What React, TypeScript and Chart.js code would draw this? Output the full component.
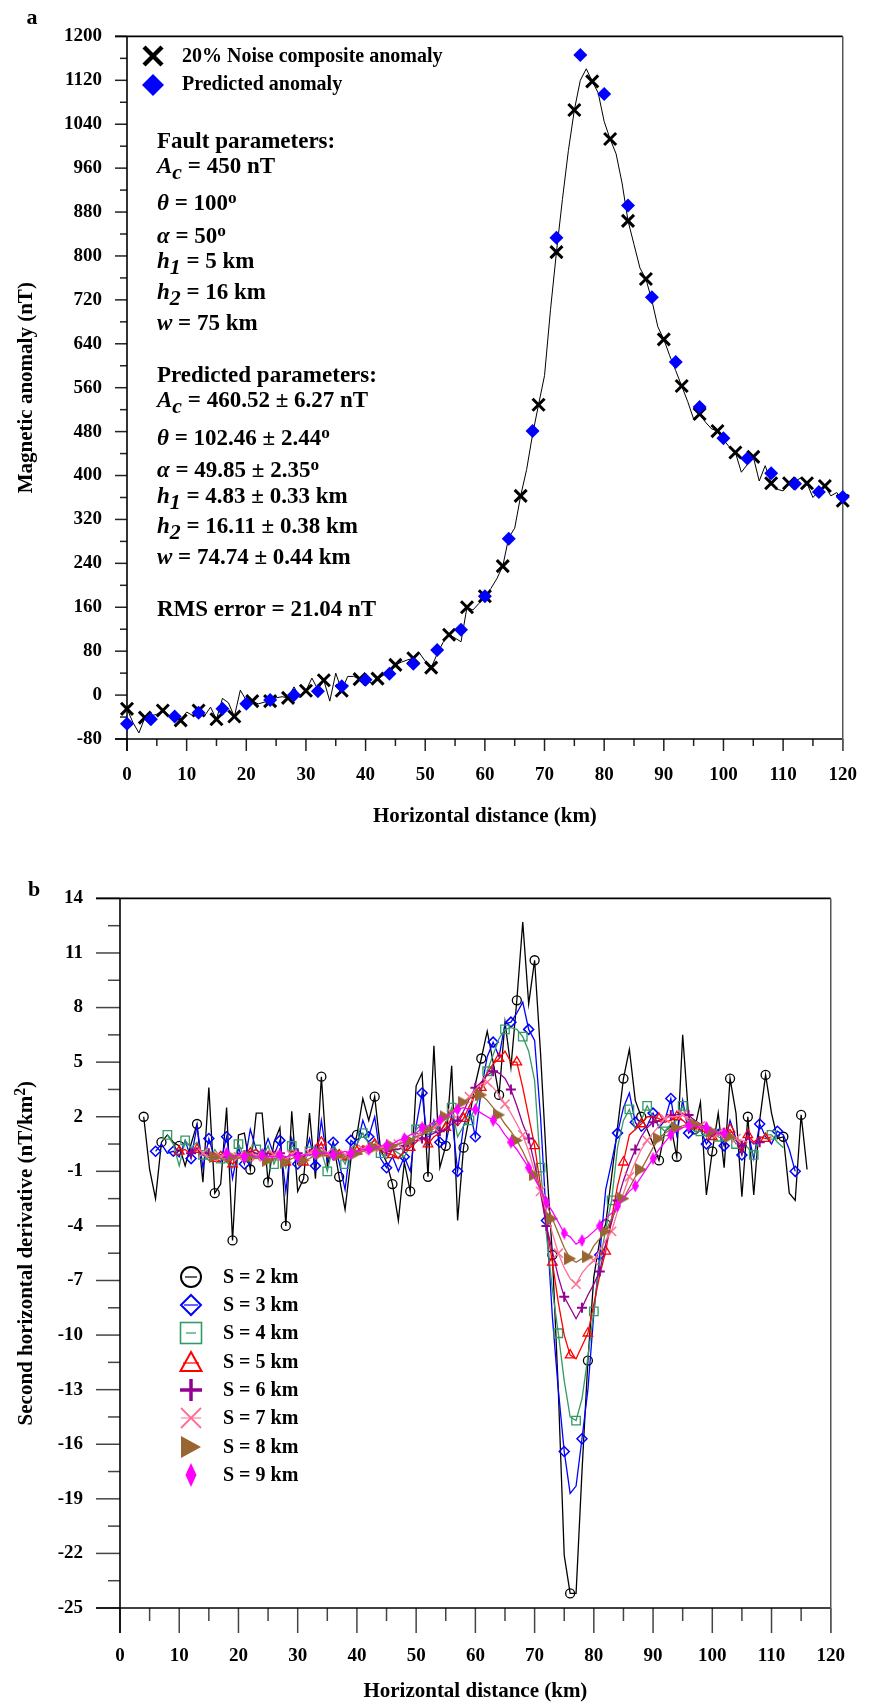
import React, { useEffect, useRef } from 'react';
import { Chart, registerables } from 'chart.js';

Chart.register(...registerables);

const SERIF = '"Liberation Serif", "Times New Roman", serif';

// ---------------- Panel a : data ----------------
// 20% noise composite anomaly, sampled every 1 km from 0 to 120 km (nT)
const NOISE_STEP_KM = 1;
const NOISE_ANOMALY = [
  -25, -50, -69, -41, -38, -35, -28, -38, -41, -46,
  -31, -37, -28, -38, -22, -44, -6, -14, -39, 9,
  -10, -11, -16, -13, -11, -5, -3, -5, 15, -5,
  8, 31, 10, 27, -11, 40, 8, 34, 34, 29,
  28, 22, 30, 36, 42, 55, 60, 64, 67, 77,
  62, 50, 75, 96, 110, 104, 97, 160, 155, 167,
  180, 194, 212, 235, 287, 304, 363, 411, 475, 529,
  582, 702, 807, 903, 992, 1066, 1120, 1141, 1118, 1097,
  1045, 1013, 986, 933, 864, 821, 778, 758, 719, 671,
  648, 618, 591, 563, 535, 503, 512, 497, 485, 481,
  465, 452, 442, 406, 420, 434, 390, 418, 386, 375,
  372, 386, 389, 396, 386, 360, 372, 381, 363, 369, 354,
];
// Predicted anomaly
const PRED_KM = [0, 4, 8, 12, 16, 20, 24, 28, 32, 36, 40, 44, 48, 52, 56, 60, 64, 68, 72, 76, 80, 84, 88, 92, 96, 100, 104, 108, 112, 116, 120];
const PRED_ANOMALY = [-52, -44, -39, -32, -25, -16, -9, 0, 7, 16, 28, 39, 57, 82, 119, 180, 285, 481, 833, 1166, 1095, 892, 725, 607, 525, 468, 431, 404, 385, 370, 361];

const A_X = { min: 0, max: 120, step: 10 };
const A_Y = { min: -80, max: 1200, step: 80 };

// ---------------- Panel b : data ----------------
const SD_LABELS = ['S = 2 km', 'S = 3 km', 'S = 4 km', 'S = 5 km', 'S = 6 km', 'S = 7 km', 'S = 8 km', 'S = 9 km'];
const SD_START_KM = [4, 6, 8, 10, 12, 14, 16, 18];
const SD_S2 = [
  2.0, -0.9, -2.5, 0.6, 1.0, 0.6, 0.4, -0.7, 0.5, 1.6,
  -1.6, 3.6, -2.2, -1.7, 2.5, -4.8, 1.0, 1.1, -0.9, 2.2,
  2.2, -1.6, 0.6, 1.4, -4.0, 2.3, -2.1, -1.4, 2.2, -1.4,
  4.2, -0.7, 0.6, -1.3, -3.1, -0.3, 1.0, 3.0, 1.8, 3.1,
  0.2, -0.5, -1.7, -3.7, -0.5, -2.1, 3.7, 4.4, -1.3, 5.9,
  -0.8, 0.4, 4.8, -3.7, 0.3, 2.0, 3.8, 5.2, 6.7, 5.0,
  3.2, 7.2, 4.7, 8.4, 12.7, 8.2, 10.6, 5.5, -0.5, -5.6,
  -13.0, -22.1, -24.2, -24.2, -17.5, -11.4, -6.8, -4.8, -3.9, -1.3,
  1.4, 4.1, 5.7, 2.9, 2.0, 1.3, 0.5, -0.4, 1.2, 1.5,
  -0.2, 6.5, 2.0, 1.3, 2.8, -2.3, 0.1, 2.2, -0.8, 4.1,
  2.2, -2.4, 2.0, -2.3, 1.8, 4.3, 2.2, 0.8, 0.9, -2.2,
  -2.6, 2.1, -0.9,
];
const SD_S3 = [
  0.1, 0.5, 0.0, 0.1, -0.2, 0.7, -0.3, 1.5, -0.8, 0.8,
  -0.3, -0.5, 0.9, -1.4, 0.3, -0.6, 1.3, 0.2, -0.1, 0.8,
  -0.1, 0.7, -2.1, 0.8, -0.6, -0.4, 0.8, -0.7, 1.8, -0.4,
  0.6, -0.5, -2.0, 0.7, 0.4, 1.8, 0.9, 2.0, -0.3, -0.8,
  -0.2, -1.0, -0.2, -1.0, 1.5, 3.3, 0.4, 1.8, 0.6, 0.5,
  2.1, -1.0, 1.5, 2.4, 0.9, 3.5, 5.3, 6.1, 5.3, 7.1,
  7.2, 7.7, 8.3, 6.8, 6.2, 2.0, -3.7, -9.0, -13.0, -16.4,
  -18.7, -18.3, -15.7, -13.0, -8.8, -5.6, -2.0, -0.5, 1.1, 2.5,
  3.3, 1.7, 1.2, 1.5, 2.2, 1.4, 1.8, 3.0, 1.0, 2.9,
  1.1, 1.5, 1.3, 0.5, 1.0, 1.3, 0.4, 1.8, 0.8, -0.1,
  1.2, -0.3, 1.6, 0.9, 0.5, 1.2, 1.0, 0.2, -1.0,
];
const SD_S4 = [
  1.0, 0.5, -0.7, 0.7, 0.3, 0.6, -0.1, -0.4, 0.2, -0.3,
  -0.5, -0.8, 0.5, -0.2, 0.1, 0.2, -0.3, 0.4, -0.6, 0.2,
  -0.8, 0.4, 0.2, -0.5, 0.1, 0.3, 0.1, -1.0, 0.4, 0.0,
  -0.6, 0.3, 0.5, 1.1, 0.5, 0.7, 0.0, -0.3, 0.2, 0.0,
  -0.2, 0.4, 1.3, 1.6, 1.0, 1.4, 1.2, 1.6, 2.5, 0.9,
  1.5, 1.8, 2.5, 3.5, 4.5, 5.4, 6.3, 6.8, 6.9, 6.8,
  6.4, 5.6, 4.0, -0.8, -4.5, -7.5, -9.9, -12.5, -14.5, -14.7,
  -13.5, -11.2, -8.7, -6.0, -4.2, -2.6, 0.3, 1.8, 2.4, 1.3,
  1.8, 2.6, 2.0, 1.5, 1.2, 1.6, 1.8, 2.6, 1.5, 1.2,
  1.2, 0.9, 1.1, 0.9, 0.7, 1.1, 0.5, 0.6, 0.3, -0.1,
  0.8, 1.0, 1.0, 0.6, 0.3,
];
const SD_S5 = [
  0.1, 0.2, -0.1, 0.2, 0.0, -0.2, -0.3, 0.1, -0.3, -0.6,
  -0.1, 0.0, 0.0, 0.2, -0.1, -0.2, 0.1, -0.1, -0.5, 0.1,
  0.0, -0.5, 0.2, 0.0, 0.6, -0.2, 0.1, -0.1, -0.4, 0.0,
  0.1, 0.4, 0.3, 0.5, 0.1, 0.0, -0.1, -0.3, 0.1, 0.3,
  0.6, 0.9, 0.5, 0.9, 1.1, 1.4, 1.9, 1.5, 1.9, 2.6,
  3.2, 3.6, 4.4, 4.9, 5.2, 5.6, 5.0, 5.0, 3.6, 2.0,
  0.4, -1.8, -4.0, -6.0, -8.2, -10.0, -11.1, -11.3, -10.6, -9.9,
  -8.3, -6.7, -5.4, -3.6, -1.8, -0.5, 1.0, 1.3, 1.6, 2.0,
  2.0, 1.9, 1.7, 1.8, 2.0, 1.8, 1.5, 1.5, 1.3, 1.1,
  0.9, 1.1, 1.0, 1.3, 0.8, 0.0, 1.0, 0.6, 0.9, 0.8, 0.9,
];
const SD_S6 = [
  0.0, 0.3, -0.1, 0.0, -0.2, -0.1, -0.2, -0.3, 0.0, -0.1,
  0.1, 0.0, -0.1, 0.0, -0.2, 0.0, -0.3, -0.1, 0.0, -0.2,
  0.1, 0.2, 0.3, 0.0, -0.1, 0.0, -0.2, 0.0, 0.1, 0.3,
  0.3, 0.3, 0.2, 0.1, 0.2, 0.2, 0.4, 0.6, 0.7, 0.8,
  0.9, 1.1, 1.2, 1.3, 1.6, 1.8, 2.3, 3.0, 3.6, 3.9,
  4.3, 4.5, 4.4, 4.1, 3.5, 2.6, 1.6, 0.8, -0.6, -2.2,
  -4.0, -5.4, -6.8, -7.9, -8.5, -9.1, -8.5, -7.8, -7.2, -6.5,
  -5.0, -3.8, -2.6, -1.5, -0.6, 0.2, 0.9, 1.4, 1.7, 1.8,
  1.9, 2.1, 2.1, 2.2, 2.1, 1.8, 1.6, 1.4, 1.2, 1.0,
  1.1, 1.0, 0.7, 0.4, 0.8, 0.5, 0.6,
];
const SD_S7 = [
  0.0, -0.2, -0.1, -0.2, -0.1, -0.3, -0.2, -0.1, -0.1, -0.2,
  -0.1, -0.2, -0.1, -0.2, -0.3, -0.1, -0.2, -0.1, 0.0, 0.1,
  0.1, 0.0, -0.1, -0.1, -0.1, 0.0, 0.1, 0.2, 0.3, 0.3,
  0.3, 0.3, 0.4, 0.5, 0.6, 0.7, 0.9, 1.0, 1.2, 1.4,
  1.6, 1.9, 2.2, 2.5, 2.8, 3.1, 3.5, 3.8, 3.9, 3.6,
  3.2, 2.7, 2.2, 1.6, 1.0, 0.1, -1.0, -2.1, -3.2, -4.4,
  -5.5, -6.3, -6.9, -7.2, -6.6, -6.2, -5.9, -5.3, -4.8, -4.3,
  -3.2, -2.2, -1.3, -0.5, 0.2, 0.7, 1.1, 1.5, 1.9, 2.0,
  2.0, 2.1, 1.9, 1.7, 1.5, 1.3, 1.2, 1.1, 1.0, 0.9,
  0.8, 0.7, 0.6,
];
const SD_S8 = [
  -0.2, -0.3, -0.4, -0.2, -0.3, -0.1, -0.2, -0.3, -0.2, -0.4,
  -0.3, -0.2, -0.5, -0.3, -0.2, -0.4, -0.3, -0.1, 0.0, -0.2,
  -0.2, -0.1, -0.3, -0.1, 0.0, 0.1, 0.2, 0.3, 0.2, 0.3,
  0.4, 0.5, 0.6, 0.7, 0.9, 1.0, 1.3, 1.5, 1.8, 2.0,
  2.3, 2.6, 2.8, 3.0, 3.2, 3.2, 2.9, 2.5, 2.1, 1.6,
  1.2, 0.7, 0.1, -0.6, -1.2, -2.0, -2.8, -3.6, -4.4, -5.2,
  -5.8, -6.0, -5.8, -5.7, -5.1, -4.7, -4.3, -3.6, -3.0, -2.5,
  -1.9, -1.3, -0.9, -0.3, 0.3, 0.8, 1.1, 1.3, 1.4, 1.5,
  1.6, 1.6, 1.5, 1.3, 1.2, 1.1, 1.0, 0.9, 0.8,
];
const SD_S9 = [
  0.0, -0.2, -0.1, -0.2, -0.1, -0.2, -0.1, -0.2, -0.2, -0.1,
  -0.2, -0.1, -0.2, -0.1, -0.1, 0.0, 0.0, 0.0, -0.1, 0.0,
  0.1, 0.0, 0.1, 0.2, 0.2, 0.3, 0.4, 0.4, 0.5, 0.7,
  0.8, 1.0, 1.1, 1.4, 1.5, 1.7, 1.8, 2.0, 2.2, 2.4,
  2.5, 2.4, 2.4, 2.2, 2.0, 1.8, 1.5, 1.0, 0.6, 0.2,
  -0.3, -0.8, -1.4, -2.0, -2.7, -3.2, -3.8, -4.4, -4.6, -5.0,
  -4.8, -4.6, -4.3, -4.0, -3.6, -3.3, -2.9, -2.5, -2.1, -1.8,
  -1.3, -0.8, -0.3, 0.2, 0.6, 1.0, 1.2, 1.4, 1.5, 1.5,
  1.4, 1.4, 1.2, 1.1, 1.1,
];
const SD_SERIES = [SD_S2, SD_S3, SD_S4, SD_S5, SD_S6, SD_S7, SD_S8, SD_S9];
const SD_STEP_KM = 1;
const SD_MARK_EVERY = 3;

const B_X = { min: 0, max: 120, step: 10 };
const B_Y = { min: -25, max: 14, step: 3 };

// ---------------- Styles ----------------
const SD_COLORS = ['#000000', '#0000ff', '#339966', '#ff0000', '#930093', '#ff6f95', '#996633', '#ff00ff'];

function makeRightTriangle(color: string, w: number, h: number) {
  const c = document.createElement('canvas');
  c.width = w; c.height = h;
  const g = c.getContext('2d')!;
  g.fillStyle = color;
  g.beginPath(); g.moveTo(0, 0); g.lineTo(w, h / 2); g.lineTo(0, h); g.closePath(); g.fill();
  return c;
}
function makeSlimDiamond(color: string, w: number, h: number) {
  const c = document.createElement('canvas');
  c.width = w; c.height = h;
  const g = c.getContext('2d')!;
  g.fillStyle = color;
  g.beginPath(); g.moveTo(w / 2, 0); g.lineTo(w, h / 2); g.lineTo(w / 2, h); g.lineTo(0, h / 2); g.closePath(); g.fill();
  return c;
}

type Seg = { t: string; it?: boolean; sub?: boolean; sup?: boolean };

function drawRich(ctx: CanvasRenderingContext2D, x: number, y: number, segs: Seg[], size: number) {
  let cx = x;
  for (const s of segs) {
    const fs = s.sub ? size * 0.95 : s.sup ? size * 0.75 : size;
    ctx.font = `${s.it ? 'italic ' : ''}bold ${fs}px ${SERIF}`;
    const dy = s.sub ? size * 0.27 : s.sup ? -size * 0.3 : 0;
    ctx.fillText(s.t, cx, y + dy);
    cx += ctx.measureText(s.t).width;
  }
  return cx - x;
}
function richWidth(ctx: CanvasRenderingContext2D, segs: Seg[], size: number) {
  let w = 0;
  for (const s of segs) {
    const fs = s.sub ? size * 0.95 : s.sup ? size * 0.75 : size;
    ctx.font = `${s.it ? 'italic ' : ''}bold ${fs}px ${SERIF}`;
    w += ctx.measureText(s.t).width;
  }
  return w;
}

function seg(ctx: CanvasRenderingContext2D, x1: number, y1: number, x2: number, y2: number) {
  ctx.beginPath(); ctx.moveTo(x1, y1); ctx.lineTo(x2, y2); ctx.stroke();
}

type FrameCfg = { yMajor: number; yMinor: number; xMajor: number; xMinor: number; tickColor: string };

function framePlugin(cfg: FrameCfg) {
  return {
    id: 'frame',
    beforeDatasetsDraw(chart: any) {
      const { ctx, chartArea: a } = chart;
      const xs = chart.scales.x, ys = chart.scales.y;
      ctx.save();
      ctx.lineCap = 'butt';
      ctx.strokeStyle = cfg.tickColor;
      ctx.lineWidth = 1.5;
      const yt = ys.ticks.map((t: any) => t.value);
      for (let i = 0; i < yt.length; i++) {
        const p = ys.getPixelForValue(yt[i]);
        seg(ctx, a.left - cfg.yMajor, p, a.left, p);
        if (i < yt.length - 1) {
          const pm = ys.getPixelForValue((yt[i] + yt[i + 1]) / 2);
          seg(ctx, a.left - cfg.yMinor, pm, a.left, pm);
        }
      }
      const xt = xs.ticks.map((t: any) => t.value);
      for (let i = 0; i < xt.length; i++) {
        const p = xs.getPixelForValue(xt[i]);
        seg(ctx, p, a.bottom, p, a.bottom + cfg.xMajor);
        if (i < xt.length - 1) {
          const pm = xs.getPixelForValue((xt[i] + xt[i + 1]) / 2);
          seg(ctx, pm, a.bottom, pm, a.bottom + cfg.xMinor);
        }
      }
      ctx.strokeStyle = '#000';
      ctx.lineWidth = 1.6;
      seg(ctx, a.left - cfg.yMajor, a.top, a.right, a.top);
      seg(ctx, a.left - cfg.yMajor, a.bottom, a.right, a.bottom);
      seg(ctx, a.left, a.top, a.left, a.bottom + cfg.xMajor);
      ctx.strokeStyle = '#555';
      ctx.lineWidth = 1.5;
      seg(ctx, a.right, a.top, a.right, a.bottom + cfg.xMajor);
      ctx.restore();
    },
  };
}

const tickFont = { family: SERIF, size: 19, weight: 'bold' as const };

function axisCommon(range: { min: number; max: number; step: number }, padding: number) {
  return {
    type: 'linear' as const,
    min: range.min,
    max: range.max,
    ticks: {
      stepSize: range.step, font: tickFont, color: '#000', padding, autoSkip: false, maxRotation: 0,
      callback: (v: any) => String(v),
    },
    grid: { display: false, drawTicks: false },
    border: { display: false },
  };
}

// ---------- Panel a text ----------
const A_LEGEND = ['20% Noise composite anomaly', 'Predicted anomaly'];
const FAULT_TITLE = 'Fault parameters:';
const FAULT_LINES: Seg[][] = [
  [{ t: 'A', it: true }, { t: 'c', it: true, sub: true }, { t: ' = 450 nT' }],
  [{ t: 'θ', it: true }, { t: ' = 100' }, { t: 'o', sup: true }],
  [{ t: 'α', it: true }, { t: ' = 50' }, { t: 'o', sup: true }],
  [{ t: 'h', it: true }, { t: '1', it: true, sub: true }, { t: ' = 5 km' }],
  [{ t: 'h', it: true }, { t: '2', it: true, sub: true }, { t: ' = 16 km' }],
  [{ t: 'w', it: true }, { t: ' = 75 km' }],
];
const PRED_TITLE = 'Predicted parameters:';
const PRED_LINES: Seg[][] = [
  [{ t: 'A', it: true }, { t: 'c', it: true, sub: true }, { t: ' = 460.52 ± 6.27 nT' }],
  [{ t: 'θ', it: true }, { t: ' = 102.46 ± 2.44' }, { t: 'o', sup: true }],
  [{ t: 'α', it: true }, { t: ' = 49.85 ± 2.35' }, { t: 'o', sup: true }],
  [{ t: 'h', it: true }, { t: '1', it: true, sub: true }, { t: ' = 4.83 ± 0.33 km' }],
  [{ t: 'h', it: true }, { t: '2', it: true, sub: true }, { t: ' = 16.11 ± 0.38 km' }],
  [{ t: 'w', it: true }, { t: ' = 74.74 ± 0.44 km' }],
];
const RMS_TEXT = 'RMS error = 21.04 nT';

function drawCenteredTitles(ctx: CanvasRenderingContext2D, xTitle: string, xc: number, yc: number, ySegs: Seg[], yx: number, yy: number) {
  ctx.save();
  ctx.fillStyle = '#000';
  ctx.textBaseline = 'middle';
  ctx.textAlign = 'center';
  ctx.font = `bold 21px ${SERIF}`;
  ctx.fillText(xTitle, xc, yc);
  ctx.textAlign = 'left';
  ctx.translate(yx, yy);
  ctx.rotate(-Math.PI / 2);
  const w = richWidth(ctx, ySegs, 21);
  drawRich(ctx, -w / 2, 0, ySegs, 21);
  ctx.restore();
}

const textAPlugin = {
  id: 'textA',
  afterDraw(chart: any) {
    const ctx: CanvasRenderingContext2D = chart.ctx;
    ctx.save();
    ctx.fillStyle = '#000';
    ctx.font = `bold 22px ${SERIF}`;
    ctx.textAlign = 'center';
    ctx.textBaseline = 'alphabetic';
    ctx.fillText('a', 32, 24);
    ctx.strokeStyle = '#000';
    ctx.lineWidth = 4.5;
    ctx.lineCap = 'butt';
    seg(ctx, 144, 47, 162, 65);
    seg(ctx, 162, 47, 144, 65);
    ctx.fillStyle = '#0000ff';
    ctx.beginPath();
    ctx.moveTo(153, 74); ctx.lineTo(164, 85); ctx.lineTo(153, 96); ctx.lineTo(142, 85); ctx.closePath(); ctx.fill();
    ctx.fillStyle = '#000';
    ctx.textAlign = 'left';
    ctx.textBaseline = 'middle';
    ctx.font = `bold 20px ${SERIF}`;
    ctx.fillText(A_LEGEND[0], 182, 57);
    ctx.fillText(A_LEGEND[1], 182, 85);
    ctx.textBaseline = 'alphabetic';
    const X0 = 157;
    const S = 23;
    ctx.font = `bold ${S}px ${SERIF}`;
    ctx.fillText(FAULT_TITLE, X0, 148);
    const fy = [173, 210, 243, 268, 299, 330];
    FAULT_LINES.forEach((l, i) => drawRich(ctx, X0, fy[i], l, S));
    ctx.font = `bold ${S}px ${SERIF}`;
    ctx.fillText(PRED_TITLE, X0, 382);
    const py = [407, 445, 477, 503, 533, 564];
    PRED_LINES.forEach((l, i) => drawRich(ctx, X0, py[i], l, S));
    ctx.font = `bold ${S}px ${SERIF}`;
    ctx.fillText(RMS_TEXT, X0, 616);
    ctx.restore();
    drawCenteredTitles(ctx, 'Horizontal distance (km)', (chart.chartArea.left + chart.chartArea.right) / 2, 817,
      [{ t: 'Magnetic anomaly (nT)' }], 27, (chart.chartArea.top + chart.chartArea.bottom) / 2);
  },
};

function drawLegendMarker(ctx: CanvasRenderingContext2D, i: number, x: number, y: number) {
  const c = SD_COLORS[i];
  ctx.save();
  ctx.strokeStyle = c;
  ctx.fillStyle = c;
  ctx.lineCap = 'butt';
  switch (i) {
    case 0:
      ctx.lineWidth = 2;
      ctx.beginPath(); ctx.arc(x, y, 10, 0, Math.PI * 2); ctx.stroke();
      ctx.lineWidth = 1.2; seg(ctx, x - 6, y, x + 6, y);
      break;
    case 1:
      ctx.lineWidth = 2;
      ctx.beginPath(); ctx.moveTo(x, y - 10); ctx.lineTo(x + 10, y); ctx.lineTo(x, y + 10); ctx.lineTo(x - 10, y); ctx.closePath(); ctx.stroke();
      ctx.lineWidth = 1.2; seg(ctx, x - 7, y, x + 7, y);
      break;
    case 2:
      ctx.lineWidth = 1.6;
      ctx.strokeRect(x - 10.5, y - 10.5, 21, 21);
      ctx.lineWidth = 1.2; seg(ctx, x - 5, y, x + 5, y);
      break;
    case 3:
      ctx.lineWidth = 2;
      ctx.beginPath(); ctx.moveTo(x, y - 10); ctx.lineTo(x + 10.5, y + 9); ctx.lineTo(x - 10.5, y + 9); ctx.closePath(); ctx.stroke();
      ctx.lineWidth = 1.2; seg(ctx, x - 8, y + 1, x + 8, y + 1);
      break;
    case 4:
      ctx.lineWidth = 3.5;
      seg(ctx, x - 11, y, x + 11, y); seg(ctx, x, y - 11, x, y + 11);
      break;
    case 5:
      ctx.lineWidth = 1.8;
      seg(ctx, x - 10, y - 10, x + 10, y + 10); seg(ctx, x + 10, y - 10, x - 10, y + 10);
      ctx.lineWidth = 1; seg(ctx, x - 10, y, x + 10, y);
      break;
    case 6:
      ctx.beginPath(); ctx.moveTo(x - 10, y - 11); ctx.lineTo(x + 10, y); ctx.lineTo(x - 10, y + 11); ctx.closePath(); ctx.fill();
      break;
    case 7:
      ctx.beginPath(); ctx.moveTo(x, y - 12); ctx.lineTo(x + 5.5, y); ctx.lineTo(x, y + 12); ctx.lineTo(x - 5.5, y); ctx.closePath(); ctx.fill();
      break;
  }
  ctx.restore();
}

const textBPlugin = {
  id: 'textB',
  afterDraw(chart: any) {
    const ctx: CanvasRenderingContext2D = chart.ctx;
    ctx.save();
    ctx.fillStyle = '#000';
    ctx.font = `bold 22px ${SERIF}`;
    ctx.textAlign = 'center';
    ctx.textBaseline = 'alphabetic';
    ctx.fillText('b', 34, 46);
    const rows = [427, 455, 483, 512, 540, 568, 597, 625];
    SD_LABELS.forEach((lab, i) => {
      drawLegendMarker(ctx, i, 191, rows[i]);
      ctx.fillStyle = '#000';
      ctx.textAlign = 'left';
      ctx.textBaseline = 'middle';
      ctx.font = `bold 20px ${SERIF}`;
      ctx.fillText(lab, 223, rows[i] + 1);
    });
    ctx.restore();
    drawCenteredTitles(ctx, 'Horizontal distance (km)', (chart.chartArea.left + chart.chartArea.right) / 2, 842,
      [{ t: 'Second horizontal derivative (nT/km' }, { t: '2', sup: true }, { t: ')' }], 27,
      (chart.chartArea.top + chart.chartArea.bottom) / 2);
  },
};

export default function App() {
  const refA = useRef<HTMLCanvasElement>(null);
  const refB = useRef<HTMLCanvasElement>(null);

  useEffect(() => {
    const noiseData = NOISE_ANOMALY.map((v, i) => ({ x: i * NOISE_STEP_KM, y: v }));
    const predData = PRED_KM.map((k, i) => ({ x: k, y: PRED_ANOMALY[i] }));

    const chartA = new Chart(refA.current!, {
      type: 'line',
      data: {
        datasets: [
          {
            label: A_LEGEND[1],
            data: predData,
            showLine: false,
            pointStyle: 'rectRot',
            pointRadius: 7,
            pointBackgroundColor: '#0000ff',
            pointBorderColor: '#0000ff',
            pointBorderWidth: 0,
            order: 0,
            clip: false as any,
          },
          {
            label: A_LEGEND[0],
            data: noiseData,
            borderColor: '#000',
            borderWidth: 1,
            tension: 0,
            pointStyle: 'crossRot',
            pointRadius: (c: any) => (c.dataIndex % 3 === 0 ? 8.5 : 0),
            pointBorderColor: '#000',
            pointBorderWidth: 3,
            pointBackgroundColor: '#000',
            order: 1,
            clip: false as any,
          },
        ],
      },
      options: {
        responsive: false,
        animation: false,
        events: [],
        layout: { padding: { left: 0, right: 29, top: 20, bottom: 11 } },
        plugins: { legend: { display: false }, tooltip: { enabled: false } },
        scales: {
          x: { ...axisCommon(A_X, 25), afterFit: (s: any) => { s.height = 100; } },
          y: { ...axisCommon(A_Y, 25), afterFit: (s: any) => { s.width = 127; } },
        },
      } as any,
      plugins: [framePlugin({ yMajor: 12, yMinor: 7, xMajor: 12, xMinor: 7, tickColor: '#222' }), textAPlugin],
    });

    const tri = makeRightTriangle(SD_COLORS[6], 12, 13);
    const dia = makeSlimDiamond(SD_COLORS[7], 7, 13);
    const markerStyles: any[] = ['circle', 'rectRot', 'rect', 'triangle', 'cross', 'crossRot', tri, dia];
    const markerRadius = [4.5, 5, 6, 5.5, 5, 6.5, 6, 6];
    const markerWidth = [1.3, 1.5, 1.3, 1.3, 2, 1.5, 1, 1];

    const datasetsB = SD_SERIES.map((vals, s) => ({
      label: SD_LABELS[s],
      data: vals.map((v, i) => ({ x: SD_START_KM[s] + i * SD_STEP_KM, y: v })),
      borderColor: SD_COLORS[s],
      borderWidth: 1.3,
      tension: 0,
      pointStyle: markerStyles[s],
      pointRadius: (c: any) => (c.dataIndex % SD_MARK_EVERY === 0 ? markerRadius[s] : 0),
      pointBorderColor: SD_COLORS[s],
      pointBorderWidth: markerWidth[s],
      pointBackgroundColor: 'rgba(0,0,0,0)',
      order: 8 - s,
      clip: false as any,
    }));

    const chartB = new Chart(refB.current!, {
      type: 'line',
      data: { datasets: datasetsB as any },
      options: {
        responsive: false,
        animation: false,
        events: [],
        layout: { padding: { left: 0, right: 35, top: 39, bottom: 7 } },
        plugins: { legend: { display: false }, tooltip: { enabled: false } },
        scales: {
          x: { ...axisCommon(B_X, 37), afterFit: (s: any) => { s.height = 90; } },
          y: { ...axisCommon(B_Y, 37), afterFit: (s: any) => { s.width = 120; } },
        },
      } as any,
      plugins: [framePlugin({ yMajor: 24, yMinor: 12, xMajor: 25, xMinor: 13, tickColor: '#444' }), textBPlugin],
    });

    return () => {
      chartA.destroy();
      chartB.destroy();
    };
  }, []);

  return (
    <div style={{ position: 'absolute', left: 0, top: 0, width: 882, height: 1705, background: '#fff' }}>
      <canvas ref={refA} width={882} height={850} style={{ position: 'absolute', left: 0, top: 0, width: 882, height: 850 }} />
      <canvas ref={refB} width={882} height={855} style={{ position: 'absolute', left: 0, top: 850, width: 882, height: 855 }} />
    </div>
  );
}
